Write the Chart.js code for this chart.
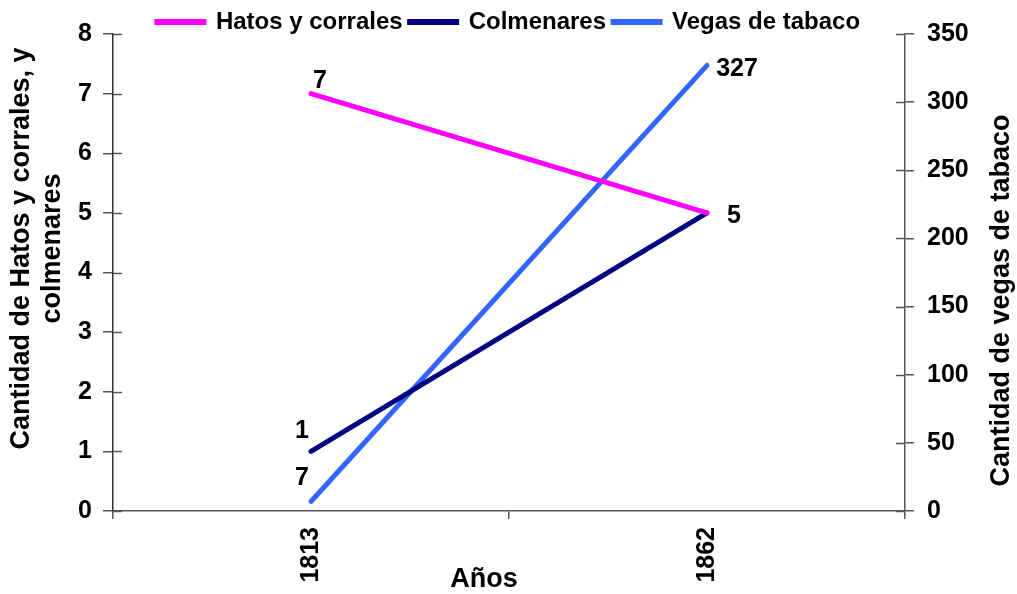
<!DOCTYPE html>
<html>
<head>
<meta charset="utf-8">
<script src="https://cdn.jsdelivr.net/npm/chart.js@4"></script>
<style>
html,body{margin:0;padding:0;background:#fff;}
#wrap{width:1017px;height:594px;position:relative;}
</style>
</head>
<body>
<div id="wrap"><canvas id="c" width="1017" height="594"></canvas></div>
<script>
const years = ['1813', '1862'];
const hatos = [7, 5];
const colmenares = [1, 5];
const vegas = [7, 327];
const leftTicksMax = 8;
const rightTicksMax = 350;

const FONT = '"Liberation Sans", Arial, sans-serif';

// label placement per dataset/point (dx, dy from point), null = no label
const labelPlacement = [
  [[9, -13], [27, 3]],
  [[-9, -20], null],
  [[-9, -23], [30, 4]]
];

const legendTrim = {
  id: 'legendTrim',
  beforeLayout(chart) {
    const lg = chart.legend;
    if (lg && !lg._trimmed) {
      const orig = lg.fit;
      lg.fit = function () { orig.call(this); this.height -= 10; };
      lg._trimmed = true;
    }
  }
};

const innerTicks = {
  id: 'innerTicks',
  afterDraw(chart) {
    const ctx = chart.ctx;
    ctx.save();
    ctx.strokeStyle = '#555';
    ctx.lineWidth = 1.5;
    ['y', 'y2'].forEach(id => {
      const s = chart.scales[id];
      const x = id === 'y' ? s.right : s.left;
      const dir = id === 'y' ? 1 : -1;
      s.ticks.forEach(t => {
        const py = Math.round(s.getPixelForValue(t.value)) + 0.5;
        ctx.beginPath();
        ctx.moveTo(x, py);
        ctx.lineTo(x + dir * 9, py);
        ctx.stroke();
      });
    });
    ctx.restore();
  }
};

const dataLabels = {
  id: 'dataLabels',
  afterDatasetsDraw(chart) {
    const ctx = chart.ctx;
    ctx.save();
    ctx.fillStyle = '#000';
    ctx.font = 'bold 25px ' + FONT;
    ctx.textAlign = 'center';
    ctx.textBaseline = 'middle';
    chart.data.datasets.forEach((ds, i) => {
      const meta = chart.getDatasetMeta(i);
      meta.data.forEach((pt, j) => {
        const pl = labelPlacement[i][j];
        if (!pl) return;
        ctx.fillText(String(ds.data[j]), pt.x + pl[0], pt.y + pl[1]);
      });
    });
    ctx.restore();
  }
};

const axisTitles = {
  id: 'axisTitles',
  afterDraw(chart) {
    const ctx = chart.ctx;
    const a = chart.chartArea;
    ctx.save();
    ctx.fillStyle = '#000';
    ctx.font = 'bold 27px ' + FONT;
    ctx.textAlign = 'center';
    ctx.textBaseline = 'middle';
    const cy = (a.top + a.bottom) / 2;
    const lines = ['Cantidad de Hatos y corrales, y', 'colmenares'];
    lines.forEach((ln, k) => {
      ctx.save();
      ctx.translate(22 + k * 31, cy - 24);
      ctx.rotate(-Math.PI / 2);
      ctx.fillText(ln, 0, 0);
      ctx.restore();
    });
    ctx.save();
    ctx.translate(1002, cy + 28);
    ctx.rotate(-Math.PI / 2);
    ctx.fillText('Cantidad de vegas de tabaco', 0, 0);
    ctx.restore();
    ctx.fillText('Años', (a.left + a.right) / 2 - 25, 580);
    ctx.restore();
  }
};

const lineDs = (label, data, color, axis) => ({
  label, data, yAxisID: axis,
  borderColor: color, backgroundColor: color,
  borderWidth: 5, borderCapStyle: 'round',
  pointRadius: 0, pointHoverRadius: 0, tension: 0
});

new Chart(document.getElementById('c'), {
  type: 'line',
  data: {
    labels: years,
    datasets: [
      lineDs('Hatos y corrales', hatos, '#FF00FF', 'y'),
      lineDs('Colmenares', colmenares, '#000080', 'y'),
      lineDs('Vegas de tabaco', vegas, '#3366FF', 'y2')
    ]
  },
  options: {
    responsive: false,
    animation: false,
    events: [],
    layout: { padding: { top: 3, left: 0, right: 0, bottom: 0 } },
    plugins: {
      tooltip: { enabled: false },
      legend: {
        position: 'top',
        labels: {
          color: '#000',
          font: { family: FONT, size: 24, weight: 'bold' },
          boxWidth: 47,
          boxHeight: 1,
          padding: 7
        }
      }
    },
    scales: {
      x: {
        type: 'category',
        offset: true,
        grid: { offset: true, drawOnChartArea: false, tickLength: 8, color: '#555', lineWidth: 1.5 },
        border: { color: '#555', width: 1.5 },
        ticks: {
          color: '#000', minRotation: 90, maxRotation: 90, padding: 8,
          font: { family: FONT, size: 25, weight: 'bold' }
        },
        afterFit(s) { s.height = 83; }
      },
      y: {
        position: 'left',
        min: 0, max: leftTicksMax,
        grid: { drawOnChartArea: false, tickLength: 10, color: '#555', lineWidth: 1.5 },
        border: { color: '#333', width: 1.5 },
        ticks: {
          stepSize: 1, color: '#000', padding: 11,
          font: { family: FONT, size: 25, weight: 'bold' }
        },
        afterFit(s) { s.width = 113; }
      },
      y2: {
        position: 'right',
        min: 0, max: rightTicksMax,
        grid: { drawOnChartArea: false, tickLength: 9, color: '#555', lineWidth: 1.5 },
        border: { color: '#555', width: 1.5 },
        ticks: {
          stepSize: 50, color: '#000', padding: 13,
          font: { family: FONT, size: 25, weight: 'bold' }
        },
        afterFit(s) { s.width = 112; }
      }
    }
  },
  plugins: [legendTrim, innerTicks, dataLabels, axisTitles]
});
</script>
</body>
</html>
